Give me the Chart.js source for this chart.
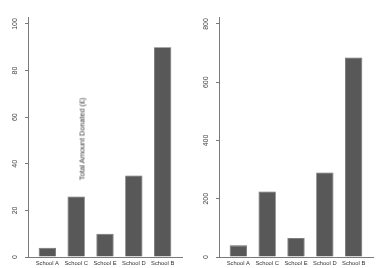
<!DOCTYPE html>
<html lang="en">
<head>
    <meta charset="UTF-8">
    <title>Donations by School</title>
    <script src="https://cdn.jsdelivr.net/npm/chart.js"></script>
    <style>
        body { margin: 0; background: #fff; }
        .box { position: absolute; top: 0; width: 193px; height: 268px; }
        #title { position: absolute; left: 82px; top: 139px; transform: translate(-50%, -50%) rotate(-90deg);
                 font: 7.3px "Liberation Sans", Arial, sans-serif; color: #333; white-space: nowrap; }
    </style>
</head>
<body>
    <div class="box" style="left:0"><canvas id="left" width="193" height="268"></canvas></div>
    <div class="box" style="left:193px"><canvas id="right" width="193" height="268"></canvas></div>
    <div id="title">Total Amount Donated (£)</div>

    <script>
        const schools = ['School A', 'School C', 'School E', 'School D', 'School B'];
        const leftValues = [4, 26, 10, 35, 90];
        const rightValues = [40, 225, 65, 290, 685];
        const leftTicks = [0, 20, 40, 60, 80, 100];
        const rightTicks = [0, 200, 400, 600, 800];

        // rotated y labels and school names, drawn next to each tick
        const axisLabels = {
            id: 'axisLabels',
            afterDraw(chart) {
                const x = chart.scales.x;
                const y = chart.scales.y;
                const ctx = chart.ctx;
                ctx.save();
                ctx.fillStyle = '#444';
                ctx.font = '7px "Liberation Sans", Arial, sans-serif';
                ctx.textAlign = 'center';
                ctx.textBaseline = 'middle';
                y.ticks.forEach(t => {
                    ctx.save();
                    ctx.translate(chart.chartArea.left - 13, y.getPixelForValue(t.value));
                    ctx.rotate(-Math.PI / 2);
                    ctx.fillText(String(t.value), 0, 0);
                    ctx.restore();
                });
                ctx.fillStyle = '#333';
                ctx.font = '5.8px "Liberation Sans", Arial, sans-serif';
                schools.forEach((s, i) => {
                    ctx.fillText(s, x.getPixelForValue(i), chart.chartArea.bottom + 6);
                });
                ctx.restore();
            }
        };

        function makeChart(id, values, ticks, yMax, yWidth, padRight) {
            new Chart(document.getElementById(id), {
                type: 'bar',
                data: {
                    datasets: [{
                        data: values.map((v, i) => ({ x: i, y: v })),
                        backgroundColor: '#585858',
                        borderColor: '#666',
                        borderWidth: 0.8,
                        categoryPercentage: 1,
                        barPercentage: 0.6
                    }]
                },
                options: {
                    responsive: false,
                    animation: false,
                    layout: { padding: { top: 17, right: padRight, left: 0, bottom: 0 } },
                    plugins: { legend: { display: false }, tooltip: { enabled: false } },
                    scales: {
                        x: {
                            type: 'linear',
                            offset: false,
                            min: -0.67,
                            max: 4.67,
                            afterBuildTicks: s => { s.ticks = schools.map((_, i) => ({ value: i })); },
                            afterFit: s => { s.height = 11; },
                            grid: { display: false },
                            border: { color: '#7a7a7a', width: 1 },
                            ticks: { display: false }
                        },
                        y: {
                            min: 0,
                            max: yMax,
                            afterBuildTicks: s => { s.ticks = ticks.map(v => ({ value: v })); },
                            afterFit: s => { s.width = yWidth; },
                            grid: { display: true, drawOnChartArea: false, drawTicks: true, tickLength: 3, color: '#7a7a7a' },
                            border: { color: '#7a7a7a', width: 1 },
                            ticks: { display: false }
                        }
                    }
                },
                plugins: [axisLabels]
            });
        }

        makeChart('left', leftValues, leftTicks, 103, 28, 11);
        makeChart('right', rightValues, rightTicks, 824, 26, 13);
    </script>
</body>
</html>
